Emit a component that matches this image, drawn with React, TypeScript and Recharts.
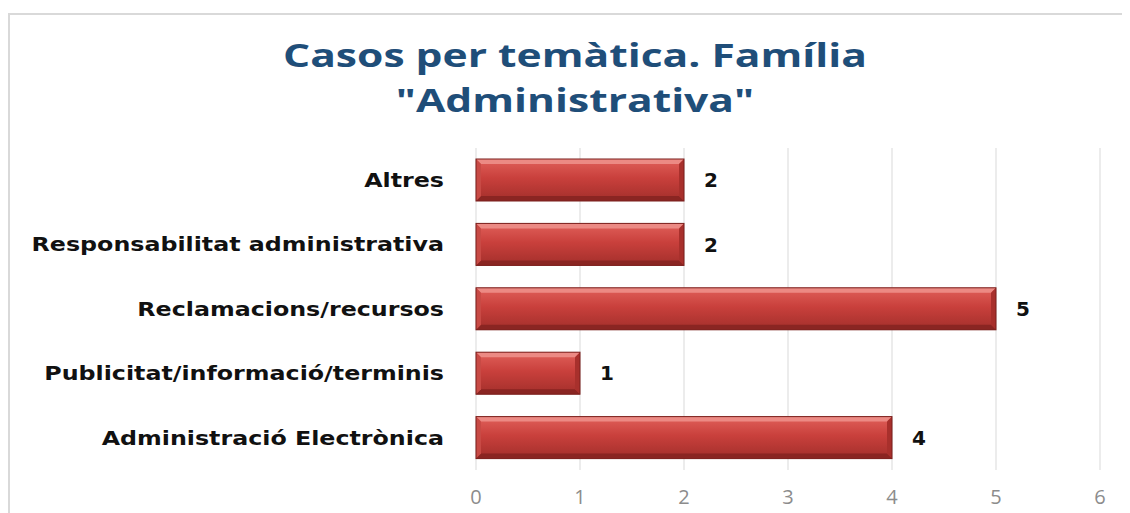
import React from 'react';
import { BarChart, Bar, XAxis, YAxis, CartesianGrid, LabelList } from 'recharts';

const categories = [
  'Altres',
  'Responsabilitat administrativa',
  'Reclamacions/recursos',
  'Publicitat/informació/terminis',
  'Administració Electrònica',
];
const casos = [2, 2, 5, 1, 4];
const xTicks = [0, 1, 2, 3, 4, 5, 6];

const data = categories.map((name, i) => ({ name, casos: casos[i] }));

const BevelBar = (props: any) => {
  const { x, y, width, height } = props;
  if (!width || width <= 0) return null;
  const b = 5;
  return (
    <g>
      <rect x={x} y={y} width={width} height={height} fill="url(#barFill)" />
      <polygon points={`${x},${y} ${x + width},${y} ${x + width - b},${y + b} ${x + b},${y + b}`} fill="#ec8a84" />
      <polygon points={`${x},${y + height} ${x + width},${y + height} ${x + width - b},${y + height - b} ${x + b},${y + height - b}`} fill="#8a2522" />
      <polygon points={`${x + width},${y} ${x + width},${y + height} ${x + width - b},${y + height - b} ${x + width - b},${y + b}`} fill="#a8302c" />
      <polygon points={`${x},${y} ${x},${y + height} ${x + b},${y + height - b} ${x + b},${y + b}`} fill="#c84a45" />
      <rect x={x} y={y} width={width} height={height} fill="none" stroke="#7a1f1c" strokeWidth={1} />
    </g>
  );
};

// category labels look stretched sideways in the original, so widen them a bit
const CategoryTick = (props: any) => {
  const { x, y, payload } = props;
  return (
    <text
      transform={`translate(${x},${y}) scale(1.25,1)`}
      textAnchor="end"
      dy="0.355em"
      fill="#111"
      fontSize={19}
      fontWeight={700}
      fontFamily='"DejaVu Sans", sans-serif'
    >
      {payload.value}
    </text>
  );
};

export default function App() {
  return (
    <div style={{ position: 'relative', width: 1122, height: 505 }}>
      <div
        style={{
          position: 'absolute',
          left: 0,
          top: 5,
          width: 1122,
          height: 500,
          borderTop: '2px solid #d9d9d9',
          borderLeft: '2px solid #d9d9d9',
          boxSizing: 'border-box',
        }}
      />
      <div
        style={{
          position: 'absolute',
          left: 0,
          top: 24,
          width: 1134,
          textAlign: 'center',
          fontFamily: '"Open Sans", sans-serif',
          fontWeight: 700,
          fontSize: 32,
          lineHeight: '45px',
          color: '#1f4e79',
          transform: 'scaleX(1.33)',
          transformOrigin: '567px 0',
        }}
      >
        Casos per temàtica. Família
        <br />
        "Administrativa"
      </div>
      <div style={{ position: 'absolute', left: 0, top: 0 }}>
        <BarChart
          width={1122}
          height={505}
          data={data}
          layout="vertical"
          margin={{ top: 140, right: 30, bottom: 0, left: 0 }}
        >
          <defs>
            <linearGradient id="barFill" x1="0" y1="0" x2="0" y2="1">
              <stop offset="0%" stopColor="#e0605a" />
              <stop offset="45%" stopColor="#c9403c" />
              <stop offset="100%" stopColor="#a32f2b" />
            </linearGradient>
          </defs>
          <CartesianGrid horizontal={false} stroke="#d9d9d9" strokeWidth={1} />
          <XAxis
            type="number"
            domain={[0, 6]}
            ticks={xTicks}
            height={43}
            axisLine={false}
            tickLine={false}
            tickSize={0}
            tickMargin={20}
            tick={{ fill: '#8c8c8c', fontSize: 20, fontFamily: '"Open Sans", sans-serif' }}
          />
          <YAxis
            type="category"
            dataKey="name"
            width={468}
            axisLine={false}
            tickLine={false}
            tickSize={0}
            tickMargin={32}
            tick={CategoryTick}
          />
          <Bar dataKey="casos" barSize={42} shape={BevelBar} isAnimationActive={false}>
            <LabelList
              dataKey="casos"
              position="right"
              offset={20}
              style={{ fill: '#111', fontSize: 20, fontWeight: 700, fontFamily: '"DejaVu Sans", sans-serif' }}
            />
          </Bar>
        </BarChart>
      </div>
    </div>
  );
}
